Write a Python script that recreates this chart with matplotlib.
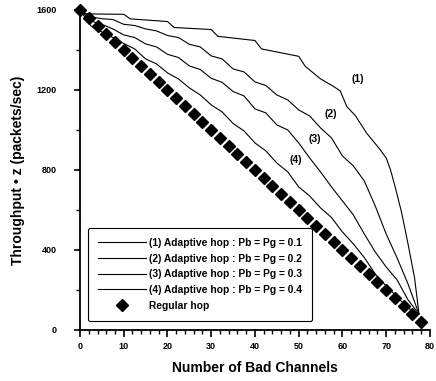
import matplotlib
matplotlib.use('Agg')
import matplotlib.pyplot as plt
from matplotlib.ticker import MultipleLocator

#	throughput vs number of bad channels, adaptive vs regular hopping

#	-	-	-	-	-	DATA	-	-	-	-	-	#
#	regular hop (diamonds every 2 channels)
regX = list(range(0, 80, 2))
regY = [1600, 1560, 1520, 1480, 1440, 1400, 1360, 1320, 1280, 1240,
		1200, 1160, 1120, 1080, 1040, 1000, 960, 920, 880, 840,
		800, 760, 720, 680, 640, 600, 560, 520, 480, 440,
		400, 360, 320, 280, 240, 200, 160, 120, 80, 40]

#	(1) Pb = Pg = 0.1
x1 = [0, 1, 10, 11.5, 20, 21.5, 30, 31.5, 40, 41.5, 50, 51.5, 55, 58, 59.5,
	61, 63, 65.5, 68.5, 70, 71, 72, 73.5, 75, 76.5, 77.5]
y1 = [1600, 1580, 1578, 1555, 1542, 1512, 1502, 1468, 1447, 1405, 1368, 1318,
	1255, 1217, 1195, 1117, 1070, 985, 905, 860, 800, 720, 590, 430, 260, 80]

#	curves (2)-(4) read every 2.5 channels
xs = [0, 2.5, 5, 7.5, 10, 12.5, 15, 17.5, 20, 22.5, 25, 27.5, 30, 32.5, 35, 37.5,
	40, 42.5, 45, 47.5, 50, 52.5, 55, 57.5, 60, 62.5, 65, 67.5, 70, 72.5, 75, 77.5]
y2 = [1600, 1565, 1556, 1552, 1528, 1522, 1505, 1495, 1472, 1462, 1428, 1415,
	1370, 1355, 1305, 1290, 1240, 1222, 1175, 1150, 1100, 1070, 1010, 960,
	870, 820, 745, 620, 480, 360, 230, 80]
y3 = [1600, 1545, 1528, 1505, 1475, 1462, 1430, 1415, 1378, 1362, 1320, 1302,
	1258, 1238, 1192, 1170, 1105, 1085, 1025, 1000, 935, 860, 790, 715,
	645, 575, 480, 390, 315, 250, 150, 80]
y4 = [1600, 1520, 1490, 1462, 1432, 1405, 1355, 1330, 1285, 1255, 1210, 1175,
	1125, 1090, 1032, 995, 935, 895, 835, 790, 715, 670, 610, 562,
	490, 430, 362, 280, 220, 165, 110, 80]

labels = ['(1) Adaptive hop : Pb = Pg = 0.1',
		'(2) Adaptive hop : Pb = Pg = 0.2',
		'(3) Adaptive hop : Pb = Pg = 0.3',
		'(4) Adaptive hop : Pb = Pg = 0.4',
		'Regular hop']

#	-	-	-	-	-	PLOT 	-	-	-	-	-	#
plt.rcParams['font.family'] = ['Liberation Sans', 'DejaVu Sans']
plt.rcParams['font.weight'] = 'bold'

fig = plt.figure(figsize=(4.36, 3.81), dpi=100)
ax = fig.add_axes([0.1835, 0.134, 0.8025, 0.84])

ax.plot(x1, y1, color='black', lw=0.8, label=labels[0])
ax.plot(xs, y2, color='black', lw=0.8, label=labels[1])
ax.plot(xs, y3, color='black', lw=0.8, label=labels[2])
ax.plot(xs, y4, color='black', lw=0.8, label=labels[3])
ax.plot(regX, regY, 'D', color='black', ms=5.8, ls='none', clip_on=False, label=labels[4])

#	curve numbers
ax.text(62, 1240, '(1)', fontsize=7.5, fontweight='bold')
ax.text(56, 1065, '(2)', fontsize=7.5, fontweight='bold')
ax.text(52.2, 940, '(3)', fontsize=7.5, fontweight='bold')
ax.text(48, 835, '(4)', fontsize=7.5, fontweight='bold')

ax.set_xlim(0, 80)
ax.set_ylim(0, 1600)
ax.xaxis.set_major_locator(MultipleLocator(10))
ax.xaxis.set_minor_locator(MultipleLocator(2))
ax.yaxis.set_major_locator(MultipleLocator(400))
ax.yaxis.set_minor_locator(MultipleLocator(200))
ax.tick_params(axis='x', which='major', direction='out', length=5, width=1.2, pad=4, labelsize=6.5)
ax.tick_params(axis='x', which='minor', direction='out', length=3, width=1)
ax.tick_params(axis='y', which='major', direction='out', length=4, width=1.2, pad=13, labelsize=6.5)
ax.tick_params(axis='y', which='minor', direction='out', length=3, width=1)

for s in ['top', 'right']:
	ax.spines[s].set_visible(False)
for s in ['left', 'bottom']:
	ax.spines[s].set_linewidth(1.3)

ax.set_xlabel('Number of Bad Channels', fontsize=10, fontweight='bold', labelpad=7)
ax.set_ylabel('Throughput \u2022 z (packets/sec)', fontsize=10, fontweight='bold', labelpad=8)

leg = ax.legend(loc='lower left', bbox_to_anchor=(0.023, 0.028), borderaxespad=0,
				fontsize=7.4, handlelength=4.6, labelspacing=0.55, fancybox=True,
				edgecolor='black', framealpha=1, borderpad=1.0, handletextpad=0.3)
leg.get_frame().set_linewidth(0.8)
for t in leg.get_texts():
	t.set_fontweight('bold')

fig.savefig('out.png', dpi=100)
